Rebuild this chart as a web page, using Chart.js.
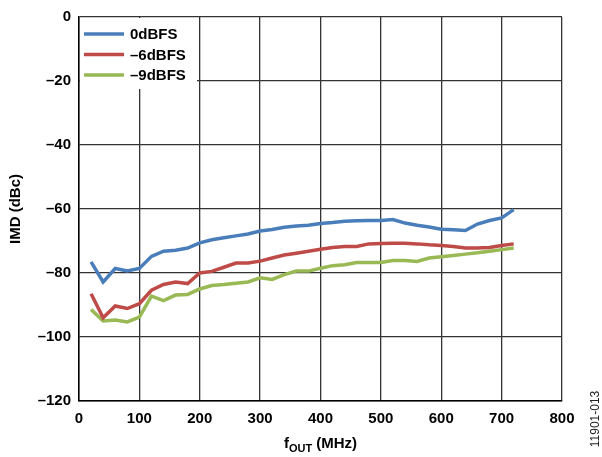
<!DOCTYPE html>
<html lang="en">
<head>
  <meta charset="UTF-8">
  <title>IMD vs fOUT</title>
  <script src="https://cdn.jsdelivr.net/npm/chart.js"></script>
  <style>
    html, body {
      margin: 0;
      padding: 0;
      background: #fff;
    }

    .wrap {
      width: 602px;
      height: 457px;
    }
  </style>
</head>
<body>
  <div class="wrap">
    <canvas id="imdChart" width="602" height="457"></canvas>
  </div>

  <script>
    // output frequency, MHz
    const freqMHz = [20, 40, 60, 80, 100, 120, 140, 160, 180, 200, 220, 240, 260, 280, 300, 320, 340, 360,
                     380, 400, 420, 440, 460, 480, 500, 520, 540, 560, 580, 600, 620, 640, 660, 680, 700, 720];

    // IMD in dBc for each digital backoff
    const imd0dBFS = [-76.5, -82.8, -78.6, -79.4, -78.6, -74.8, -73.2, -72.9, -72.2, -70.6, -69.6, -69.0,
                      -68.4, -67.8, -66.9, -66.4, -65.7, -65.3, -65.1, -64.5, -64.2, -63.8, -63.7, -63.6,
                      -63.6, -63.3, -64.4, -65.1, -65.6, -66.3, -66.5, -66.7, -64.7, -63.6, -62.8, -60.2];
    const imdMinus6dBFS = [-86.5, -94.0, -90.3, -91.1, -89.6, -85.4, -83.6, -82.8, -83.3, -80.0, -79.5, -78.2,
                           -76.9, -76.9, -76.3, -75.3, -74.4, -73.8, -73.2, -72.6, -72.0, -71.7, -71.7, -70.9,
                           -70.8, -70.7, -70.7, -70.9, -71.2, -71.4, -71.7, -72.2, -72.2, -72.0, -71.4, -70.9];
    const imdMinus9dBFS = [-91.4, -95.0, -94.7, -95.3, -93.8, -87.2, -88.6, -86.9, -86.7, -85.0, -83.9, -83.6,
                           -83.2, -82.8, -81.5, -82.0, -80.5, -79.4, -79.4, -78.5, -77.7, -77.4, -76.7, -76.7,
                           -76.7, -76.1, -76.1, -76.4, -75.3, -74.9, -74.5, -74.1, -73.7, -73.2, -72.7, -72.2];

    const seriesLabels = ['0dBFS', '\u20136dBFS', '\u20139dBFS'];
    const seriesColors = ['#4a7ebb', '#be4b48', '#98b954'];

    const FONT = 'Arial, "Liberation Sans", sans-serif';
    Chart.defaults.font.family = FONT;
    Chart.defaults.font.size = 15;
    Chart.defaults.font.weight = 'bold';
    Chart.defaults.color = '#000';

    const toPoints = ys => ys.map((y, i) => ({ x: freqMHz[i], y: y }));
    const dash = v => String(v).replace('-', '\u2013');

    // legend box in the upper left corner of the plot, plus axis titles
    const decorations = {
      id: 'decorations',
      afterDraw(chart) {
        const ctx = chart.ctx;
        const area = chart.chartArea;
        ctx.save();

        // legend
        ctx.fillStyle = '#fff';
        ctx.fillRect(area.left + 1, area.top + 1, 117, 71);
        chart.data.datasets.forEach((ds, i) => {
          const y = area.top + 17 + i * 20.5;
          ctx.strokeStyle = ds.borderColor;
          ctx.lineWidth = 3.5;
          ctx.beginPath();
          ctx.moveTo(area.left + 5, y);
          ctx.lineTo(area.left + 45, y);
          ctx.stroke();
          ctx.fillStyle = '#000';
          ctx.font = 'bold 15px ' + FONT;
          ctx.textAlign = 'left';
          ctx.textBaseline = 'middle';
          ctx.fillText(ds.label, area.left + 51, y + 1);
        });

        // y axis title
        ctx.fillStyle = '#000';
        ctx.font = 'bold 15px ' + FONT;
        ctx.translate(16, (area.top + area.bottom) / 2);
        ctx.rotate(-Math.PI / 2);
        ctx.textAlign = 'center';
        ctx.textBaseline = 'middle';
        ctx.fillText('IMD (dBc)', 0, 0);
        ctx.setTransform(1, 0, 0, 1, 0, 0);

        // x axis title: f with OUT subscript
        const big = 'bold 15px ' + FONT;
        const small = 'bold 11px ' + FONT;
        ctx.font = big;
        const wF = ctx.measureText('f').width;
        const wRest = ctx.measureText(' (MHz)').width;
        ctx.font = small;
        const wSub = ctx.measureText('OUT').width;
        const total = wF + wSub + wRest;
        let x = (area.left + area.right) / 2 - total / 2;
        const yBase = 448;
        ctx.textAlign = 'left';
        ctx.textBaseline = 'alphabetic';
        ctx.font = big;
        ctx.fillText('f', x, yBase);
        x += wF;
        ctx.font = small;
        ctx.fillText('OUT', x, yBase + 4);
        x += wSub;
        ctx.font = big;
        ctx.fillText(' (MHz)', x, yBase);

        // figure number along the right edge
        ctx.font = '12px ' + FONT;
        ctx.fillStyle = '#222';
        ctx.translate(596, 419);
        ctx.rotate(-Math.PI / 2);
        ctx.textAlign = 'center';
        ctx.textBaseline = 'middle';
        ctx.fillText('11901-013', 0, 0);

        ctx.restore();
      }
    };

    const ctx = document.getElementById('imdChart').getContext('2d');

    new Chart(ctx, {
      type: 'line',
      data: {
        datasets: [
          { label: seriesLabels[0], data: toPoints(imd0dBFS), borderColor: seriesColors[0] },
          { label: seriesLabels[1], data: toPoints(imdMinus6dBFS), borderColor: seriesColors[1] },
          { label: seriesLabels[2], data: toPoints(imdMinus9dBFS), borderColor: seriesColors[2] }
        ].map(ds => Object.assign(ds, {
          borderWidth: 3.5,
          pointRadius: 0,
          tension: 0,
          fill: false
        }))
      },
      options: {
        responsive: false,
        animation: false,
        layout: {
          padding: { top: 15, right: 40, bottom: 0, left: 0 }
        },
        plugins: {
          legend: { display: false },
          tooltip: { enabled: false }
        },
        scales: {
          x: {
            type: 'linear',
            min: 0,
            max: 800,
            ticks: {
              stepSize: 100,
              padding: 9,
              maxRotation: 0,
              callback: v => dash(v)
            },
            grid: {
              color: '#333',
              lineWidth: 1.3,
              drawTicks: false
            },
            border: { color: '#000', width: 1.5 },
            afterFit: scale => { scale.height = 56; }
          },
          y: {
            min: -120,
            max: 0,
            ticks: {
              stepSize: 20,
              padding: 8,
              callback: v => dash(v)
            },
            grid: {
              color: '#333',
              lineWidth: 1.3,
              drawTicks: false
            },
            border: { color: '#000', width: 1.5 },
            afterFit: scale => { scale.width = 79; }
          }
        }
      },
      plugins: [decorations]
    });
  </script>
</body>
</html>
